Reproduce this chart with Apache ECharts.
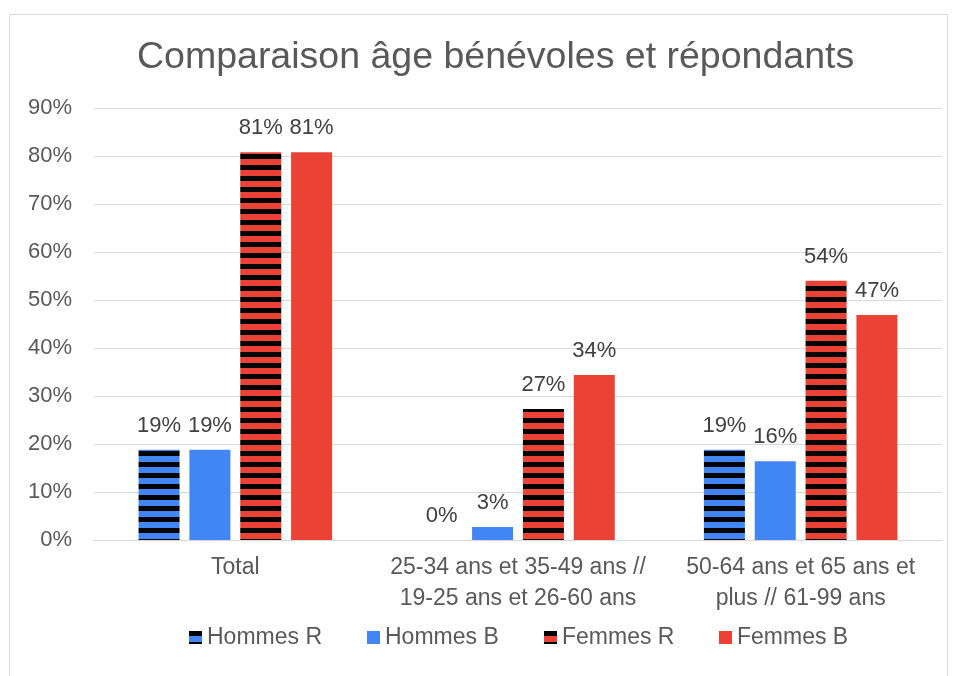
<!DOCTYPE html>
<html>
<head>
<meta charset="utf-8">
<script src="https://cdn.jsdelivr.net/npm/echarts@6/dist/echarts.min.js"></script>
<style>
  html, body { margin: 0; padding: 0; background: #fff; }
  #chart { width: 957px; height: 676px; }
</style>
</head>
<body>
<div id="chart"></div>
<script>
const categories = [
  'Total',
  '25-34 ans et 35-49 ans //\n19-25 ans et 26-60 ans',
  '50-64 ans et 65 ans et\nplus // 61-99 ans',
]
const seriesNames = ['Hommes R', 'Hommes B', 'Femmes R', 'Femmes B']
const hommesR = [18.8, 0, 18.8]
const hommesB = [18.8, 2.7, 16.4]
const femmesR = [80.8, 27.3, 54.0]
const femmesB = [80.8, 34.4, 46.9]
const yTicks = [0, 10, 20, 30, 40, 50, 60, 70, 80, 90]

const blue = '#4285f4'
const red = '#ea4335'

// rayures horizontales noires
function stripes(color) {
  const c = document.createElement('canvas')
  c.width = 8
  c.height = 11
  const ctx = c.getContext('2d')
  ctx.fillStyle = color
  ctx.fillRect(0, 0, 8, 11)
  ctx.fillStyle = '#000'
  ctx.fillRect(0, 0, 8, 5)
  return { image: c, repeat: 'repeat' }
}

const label = {
  show: true,
  position: 'top',
  distance: 13,
  color: '#404040',
  fontSize: 22,
  fontFamily: 'Liberation Sans',
  formatter: p => Math.round(p.value) + '%',
}

function bar(name, data, color) {
  return {
    name,
    type: 'bar',
    data,
    barWidth: 41,
    barGap: '24%',
    label,
    itemStyle: { color },
  }
}

// une légende par série, espacées comme dans l'original
const legendLeft = [189, 367, 544, 719]
const legends = seriesNames.map((n, i) => ({
  bottom: 27,
  left: legendLeft[i],
  padding: 0,
  itemWidth: 13,
  itemHeight: 13,
  icon: 'rect',
  textStyle: { fontSize: 23, color: '#595959', fontFamily: 'Liberation Sans' },
  data: [n],
}))

const chart = echarts.init(document.getElementById('chart'))
chart.setOption({
  animation: false,
  textStyle: { fontFamily: 'Liberation Sans' },
  graphic: [{
    type: 'rect',
    shape: { x: 9.5, y: 14.5, width: 938, height: 700 },
    style: { fill: 'none', stroke: '#d9d9d9', lineWidth: 1 },
    silent: true,
  }],
  title: {
    text: 'Comparaison âge bénévoles et répondants',
    left: 132,
    top: 34,
    textStyle: { fontSize: 37.5, fontWeight: 'normal', color: '#595959', fontFamily: 'Liberation Sans' },
  },
  legend: legends,
  grid: { left: 94, right: 15, top: 108, bottom: 136, containLabel: false },
  xAxis: {
    type: 'category',
    data: categories,
    axisLine: { lineStyle: { color: '#d9d9d9' } },
    axisTick: { show: false },
    axisLabel: { color: '#595959', fontSize: 23, lineHeight: 31, margin: 12, interval: 0 },
  },
  yAxis: {
    type: 'value',
    min: 0,
    max: 90,
    interval: 10,
    axisLine: { show: false },
    axisTick: { show: false },
    splitLine: { lineStyle: { color: '#d9d9d9' } },
    axisLabel: {
      color: '#595959',
      fontSize: 22,
      margin: 22,
      formatter: v => (yTicks.includes(v) ? v + '%' : ''),
    },
  },
  series: [
    bar(seriesNames[0], hommesR, stripes(blue)),
    bar(seriesNames[1], hommesB, blue),
    bar(seriesNames[2], femmesR, stripes(red)),
    bar(seriesNames[3], femmesB, red),
  ],
})
</script>
</body>
</html>
